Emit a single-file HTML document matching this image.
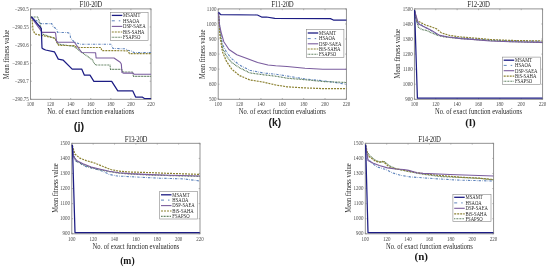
<!DOCTYPE html><html><head><meta charset="utf-8"><style>html,body{margin:0;padding:0;background:#fff;}svg{display:block;filter:blur(0.45px);} text{stroke:#111;stroke-width:0.1px;} text.t{stroke:none;fill:#484848;} text.p{stroke:none;} text.l{stroke:none;fill:#2a2a2a;}</style></head><body>
<svg width="550" height="270" viewBox="0 0 550 270">
<rect width="550" height="270" fill="#fff"/>
<rect x="30.5" y="8.9" width="120.50" height="90.40" fill="none" stroke="#888888" stroke-width="0.9"/>
<line x1="30.50" y1="99.3" x2="30.50" y2="98.0" stroke="#888888" stroke-width="0.6"/>
<line x1="30.50" y1="8.9" x2="30.50" y2="10.200000000000001" stroke="#888888" stroke-width="0.6"/>
<text x="0" y="0" transform="translate(30.50,106.20) scale(1,1.2)" font-family="Liberation Serif" font-size="5.0" text-anchor="middle" font-weight="normal" fill="#111" class="t">100</text>
<line x1="50.58" y1="99.3" x2="50.58" y2="98.0" stroke="#888888" stroke-width="0.6"/>
<line x1="50.58" y1="8.9" x2="50.58" y2="10.200000000000001" stroke="#888888" stroke-width="0.6"/>
<text x="0" y="0" transform="translate(50.58,106.20) scale(1,1.2)" font-family="Liberation Serif" font-size="5.0" text-anchor="middle" font-weight="normal" fill="#111" class="t">120</text>
<line x1="70.67" y1="99.3" x2="70.67" y2="98.0" stroke="#888888" stroke-width="0.6"/>
<line x1="70.67" y1="8.9" x2="70.67" y2="10.200000000000001" stroke="#888888" stroke-width="0.6"/>
<text x="0" y="0" transform="translate(70.67,106.20) scale(1,1.2)" font-family="Liberation Serif" font-size="5.0" text-anchor="middle" font-weight="normal" fill="#111" class="t">140</text>
<line x1="90.75" y1="99.3" x2="90.75" y2="98.0" stroke="#888888" stroke-width="0.6"/>
<line x1="90.75" y1="8.9" x2="90.75" y2="10.200000000000001" stroke="#888888" stroke-width="0.6"/>
<text x="0" y="0" transform="translate(90.75,106.20) scale(1,1.2)" font-family="Liberation Serif" font-size="5.0" text-anchor="middle" font-weight="normal" fill="#111" class="t">160</text>
<line x1="110.83" y1="99.3" x2="110.83" y2="98.0" stroke="#888888" stroke-width="0.6"/>
<line x1="110.83" y1="8.9" x2="110.83" y2="10.200000000000001" stroke="#888888" stroke-width="0.6"/>
<text x="0" y="0" transform="translate(110.83,106.20) scale(1,1.2)" font-family="Liberation Serif" font-size="5.0" text-anchor="middle" font-weight="normal" fill="#111" class="t">180</text>
<line x1="130.92" y1="99.3" x2="130.92" y2="98.0" stroke="#888888" stroke-width="0.6"/>
<line x1="130.92" y1="8.9" x2="130.92" y2="10.200000000000001" stroke="#888888" stroke-width="0.6"/>
<text x="0" y="0" transform="translate(130.92,106.20) scale(1,1.2)" font-family="Liberation Serif" font-size="5.0" text-anchor="middle" font-weight="normal" fill="#111" class="t">200</text>
<line x1="151.00" y1="99.3" x2="151.00" y2="98.0" stroke="#888888" stroke-width="0.6"/>
<line x1="151.00" y1="8.9" x2="151.00" y2="10.200000000000001" stroke="#888888" stroke-width="0.6"/>
<text x="0" y="0" transform="translate(151.00,106.20) scale(1,1.2)" font-family="Liberation Serif" font-size="5.0" text-anchor="middle" font-weight="normal" fill="#111" class="t">220</text>
<line x1="30.5" y1="8.90" x2="31.8" y2="8.90" stroke="#888888" stroke-width="0.6"/>
<line x1="151.0" y1="8.90" x2="149.7" y2="8.90" stroke="#888888" stroke-width="0.6"/>
<text x="0" y="0" transform="translate(28.80,10.53) scale(1,1.2)" font-family="Liberation Serif" font-size="5.0" text-anchor="end" font-weight="normal" fill="#111" class="t">−290.5</text>
<line x1="30.5" y1="26.98" x2="31.8" y2="26.98" stroke="#888888" stroke-width="0.6"/>
<line x1="151.0" y1="26.98" x2="149.7" y2="26.98" stroke="#888888" stroke-width="0.6"/>
<text x="0" y="0" transform="translate(28.80,28.61) scale(1,1.2)" font-family="Liberation Serif" font-size="5.0" text-anchor="end" font-weight="normal" fill="#111" class="t">−290.55</text>
<line x1="30.5" y1="45.06" x2="31.8" y2="45.06" stroke="#888888" stroke-width="0.6"/>
<line x1="151.0" y1="45.06" x2="149.7" y2="45.06" stroke="#888888" stroke-width="0.6"/>
<text x="0" y="0" transform="translate(28.80,46.69) scale(1,1.2)" font-family="Liberation Serif" font-size="5.0" text-anchor="end" font-weight="normal" fill="#111" class="t">−290.6</text>
<line x1="30.5" y1="63.14" x2="31.8" y2="63.14" stroke="#888888" stroke-width="0.6"/>
<line x1="151.0" y1="63.14" x2="149.7" y2="63.14" stroke="#888888" stroke-width="0.6"/>
<text x="0" y="0" transform="translate(28.80,64.77) scale(1,1.2)" font-family="Liberation Serif" font-size="5.0" text-anchor="end" font-weight="normal" fill="#111" class="t">−290.65</text>
<line x1="30.5" y1="81.22" x2="31.8" y2="81.22" stroke="#888888" stroke-width="0.6"/>
<line x1="151.0" y1="81.22" x2="149.7" y2="81.22" stroke="#888888" stroke-width="0.6"/>
<text x="0" y="0" transform="translate(28.80,82.85) scale(1,1.2)" font-family="Liberation Serif" font-size="5.0" text-anchor="end" font-weight="normal" fill="#111" class="t">−290.7</text>
<line x1="30.5" y1="99.30" x2="31.8" y2="99.30" stroke="#888888" stroke-width="0.6"/>
<line x1="151.0" y1="99.30" x2="149.7" y2="99.30" stroke="#888888" stroke-width="0.6"/>
<text x="0" y="0" transform="translate(28.80,100.93) scale(1,1.2)" font-family="Liberation Serif" font-size="5.0" text-anchor="end" font-weight="normal" fill="#111" class="t">−290.75</text>
<text x="0" y="0" transform="translate(90.75,7.20) scale(1,1.1)" font-family="Liberation Serif" font-size="6.8" text-anchor="middle" font-weight="normal" fill="#111" letter-spacing="-0.3" class="l">F10-20D</text>
<text x="0" y="0" transform="translate(90.75,114.00) scale(1,1.12)" font-family="Liberation Serif" font-size="6.55" text-anchor="middle" font-weight="normal" fill="#111" class="l">No. of exact function evaluations</text>
<text x="0" y="0" class="l" font-family="Liberation Serif" font-size="6.55" text-anchor="middle" fill="#111" transform="translate(8.90,54.50) rotate(-90) scale(1,1.12)">Mean fitness value</text>
<g clip-path="url(#cj)">
<polyline points="31.00,17.00 41.00,23.60 51.70,23.60 53.30,26.80 56.70,29.00 57.50,32.40 66.70,32.50 70.00,33.30 70.60,38.30 74.40,42.00 80.00,44.20 111.00,44.20 113.00,48.40 125.00,48.80 128.00,50.20 132.00,51.20 134.00,52.60 151.00,52.60" fill="none" stroke="#5f84bc" stroke-width="1.1" stroke-dasharray="2.4,1.2,0.6,1.2" stroke-linejoin="round" />
<polyline points="31.00,17.00 37.80,17.00 40.00,23.40 42.00,34.00 55.00,38.50 58.00,44.00 74.00,46.50 82.00,52.50 92.00,59.50 94.40,63.30 95.60,65.00 110.00,65.00 110.50,69.40 122.00,69.40 122.70,72.00 132.50,72.00 133.50,76.40 151.00,76.40" fill="none" stroke="#3f663f" stroke-width="1.15" stroke-dasharray="0.8,0.7" stroke-linejoin="round" />
<polyline points="31.00,17.00 32.00,18.00 33.00,30.00 35.00,34.00 42.00,35.50 54.00,37.80 55.50,39.40 58.00,44.40 59.00,45.50 74.40,45.50 76.00,47.00 80.00,47.50 101.00,47.50 101.70,50.60 128.00,50.80 129.50,53.60 151.00,53.60" fill="none" stroke="#8c8232" stroke-width="1.2" stroke-dasharray="2,1" stroke-linejoin="round" />
<polyline points="31.00,17.00 42.20,32.40 55.00,32.40 55.60,33.30 56.50,41.00 57.80,42.30 74.40,42.30 81.70,52.50 95.60,52.70 96.10,58.00 114.00,58.00 120.20,62.20 121.30,64.00 122.00,72.60 123.30,73.10 133.00,73.10 134.00,74.20 151.00,74.20" fill="none" stroke="#7a5c9e" stroke-width="1.1" stroke-linejoin="round" />
<polyline points="31.00,17.00 32.00,17.30 41.30,28.50 42.00,48.00 43.00,48.90 45.60,50.00 54.40,51.80 58.30,59.10 63.30,60.20 72.20,69.10 81.70,69.10 84.40,75.20 90.00,75.20 93.90,81.40 111.70,81.40 117.80,90.90 132.80,90.90 135.60,97.00 142.20,97.00 144.40,98.60 151.00,98.60" fill="none" stroke="#1c1c84" stroke-width="1.25" stroke-linejoin="round" />
</g>
<rect x="110.5" y="12.3" width="37.60" height="28.20" fill="#fff" stroke="#888888" stroke-width="0.6"/>
<polyline points="111.80,15.40 122.30,15.40" fill="none" stroke="#1c1c84" stroke-width="1.3" stroke-linejoin="round" />
<text x="0" y="0" transform="translate(123.10,17.27) scale(1,1.2)" font-family="Liberation Serif" font-size="4.7" text-anchor="start" font-weight="normal" fill="#111" class="t" style="fill:#262626">MSAMT</text>
<polyline points="111.80,20.80 122.30,20.80" fill="none" stroke="#5f84bc" stroke-width="1.0" stroke-dasharray="3,4,1.5,4" stroke-linejoin="round" />
<text x="0" y="0" transform="translate(123.10,22.67) scale(1,1.2)" font-family="Liberation Serif" font-size="4.7" text-anchor="start" font-weight="normal" fill="#111" class="t" style="fill:#262626">HSAOA</text>
<polyline points="111.80,26.40 122.30,26.40" fill="none" stroke="#7a5c9e" stroke-width="1.1" stroke-linejoin="round" />
<text x="0" y="0" transform="translate(123.10,28.27) scale(1,1.2)" font-family="Liberation Serif" font-size="4.7" text-anchor="start" font-weight="normal" fill="#111" class="t" style="fill:#262626">DSP-SAEA</text>
<polyline points="111.80,32.00 122.30,32.00" fill="none" stroke="#8c8232" stroke-width="1.2" stroke-dasharray="2,1" stroke-linejoin="round" />
<text x="0" y="0" transform="translate(123.10,33.87) scale(1,1.2)" font-family="Liberation Serif" font-size="4.7" text-anchor="start" font-weight="normal" fill="#111" class="t" style="fill:#262626">BiS-SAHA</text>
<polyline points="111.80,37.30 122.30,37.30" fill="none" stroke="#3f663f" stroke-width="1.1" stroke-dasharray="0.8,0.7" stroke-linejoin="round" />
<text x="0" y="0" transform="translate(123.10,39.17) scale(1,1.2)" font-family="Liberation Serif" font-size="4.7" text-anchor="start" font-weight="normal" fill="#111" class="t" style="fill:#262626">FSAPSO</text>
<rect x="218.2" y="8.9" width="128.20" height="90.40" fill="none" stroke="#888888" stroke-width="0.9"/>
<line x1="218.20" y1="99.3" x2="218.20" y2="98.0" stroke="#888888" stroke-width="0.6"/>
<line x1="218.20" y1="8.9" x2="218.20" y2="10.200000000000001" stroke="#888888" stroke-width="0.6"/>
<text x="0" y="0" transform="translate(218.20,106.20) scale(1,1.2)" font-family="Liberation Serif" font-size="5.0" text-anchor="middle" font-weight="normal" fill="#111" class="t">100</text>
<line x1="239.57" y1="99.3" x2="239.57" y2="98.0" stroke="#888888" stroke-width="0.6"/>
<line x1="239.57" y1="8.9" x2="239.57" y2="10.200000000000001" stroke="#888888" stroke-width="0.6"/>
<text x="0" y="0" transform="translate(239.57,106.20) scale(1,1.2)" font-family="Liberation Serif" font-size="5.0" text-anchor="middle" font-weight="normal" fill="#111" class="t">120</text>
<line x1="260.93" y1="99.3" x2="260.93" y2="98.0" stroke="#888888" stroke-width="0.6"/>
<line x1="260.93" y1="8.9" x2="260.93" y2="10.200000000000001" stroke="#888888" stroke-width="0.6"/>
<text x="0" y="0" transform="translate(260.93,106.20) scale(1,1.2)" font-family="Liberation Serif" font-size="5.0" text-anchor="middle" font-weight="normal" fill="#111" class="t">140</text>
<line x1="282.30" y1="99.3" x2="282.30" y2="98.0" stroke="#888888" stroke-width="0.6"/>
<line x1="282.30" y1="8.9" x2="282.30" y2="10.200000000000001" stroke="#888888" stroke-width="0.6"/>
<text x="0" y="0" transform="translate(282.30,106.20) scale(1,1.2)" font-family="Liberation Serif" font-size="5.0" text-anchor="middle" font-weight="normal" fill="#111" class="t">160</text>
<line x1="303.67" y1="99.3" x2="303.67" y2="98.0" stroke="#888888" stroke-width="0.6"/>
<line x1="303.67" y1="8.9" x2="303.67" y2="10.200000000000001" stroke="#888888" stroke-width="0.6"/>
<text x="0" y="0" transform="translate(303.67,106.20) scale(1,1.2)" font-family="Liberation Serif" font-size="5.0" text-anchor="middle" font-weight="normal" fill="#111" class="t">180</text>
<line x1="325.03" y1="99.3" x2="325.03" y2="98.0" stroke="#888888" stroke-width="0.6"/>
<line x1="325.03" y1="8.9" x2="325.03" y2="10.200000000000001" stroke="#888888" stroke-width="0.6"/>
<text x="0" y="0" transform="translate(325.03,106.20) scale(1,1.2)" font-family="Liberation Serif" font-size="5.0" text-anchor="middle" font-weight="normal" fill="#111" class="t">200</text>
<line x1="346.40" y1="99.3" x2="346.40" y2="98.0" stroke="#888888" stroke-width="0.6"/>
<line x1="346.40" y1="8.9" x2="346.40" y2="10.200000000000001" stroke="#888888" stroke-width="0.6"/>
<text x="0" y="0" transform="translate(346.40,106.20) scale(1,1.2)" font-family="Liberation Serif" font-size="5.0" text-anchor="middle" font-weight="normal" fill="#111" class="t">220</text>
<line x1="218.2" y1="8.90" x2="219.5" y2="8.90" stroke="#888888" stroke-width="0.6"/>
<line x1="346.4" y1="8.90" x2="345.09999999999997" y2="8.90" stroke="#888888" stroke-width="0.6"/>
<text x="0" y="0" transform="translate(216.50,10.53) scale(1,1.2)" font-family="Liberation Serif" font-size="5.0" text-anchor="end" font-weight="normal" fill="#111" class="t">1100</text>
<line x1="218.2" y1="23.97" x2="219.5" y2="23.97" stroke="#888888" stroke-width="0.6"/>
<line x1="346.4" y1="23.97" x2="345.09999999999997" y2="23.97" stroke="#888888" stroke-width="0.6"/>
<text x="0" y="0" transform="translate(216.50,25.59) scale(1,1.2)" font-family="Liberation Serif" font-size="5.0" text-anchor="end" font-weight="normal" fill="#111" class="t">1000</text>
<line x1="218.2" y1="39.03" x2="219.5" y2="39.03" stroke="#888888" stroke-width="0.6"/>
<line x1="346.4" y1="39.03" x2="345.09999999999997" y2="39.03" stroke="#888888" stroke-width="0.6"/>
<text x="0" y="0" transform="translate(216.50,40.66) scale(1,1.2)" font-family="Liberation Serif" font-size="5.0" text-anchor="end" font-weight="normal" fill="#111" class="t">900</text>
<line x1="218.2" y1="54.10" x2="219.5" y2="54.10" stroke="#888888" stroke-width="0.6"/>
<line x1="346.4" y1="54.10" x2="345.09999999999997" y2="54.10" stroke="#888888" stroke-width="0.6"/>
<text x="0" y="0" transform="translate(216.50,55.73) scale(1,1.2)" font-family="Liberation Serif" font-size="5.0" text-anchor="end" font-weight="normal" fill="#111" class="t">800</text>
<line x1="218.2" y1="69.17" x2="219.5" y2="69.17" stroke="#888888" stroke-width="0.6"/>
<line x1="346.4" y1="69.17" x2="345.09999999999997" y2="69.17" stroke="#888888" stroke-width="0.6"/>
<text x="0" y="0" transform="translate(216.50,70.79) scale(1,1.2)" font-family="Liberation Serif" font-size="5.0" text-anchor="end" font-weight="normal" fill="#111" class="t">700</text>
<line x1="218.2" y1="84.23" x2="219.5" y2="84.23" stroke="#888888" stroke-width="0.6"/>
<line x1="346.4" y1="84.23" x2="345.09999999999997" y2="84.23" stroke="#888888" stroke-width="0.6"/>
<text x="0" y="0" transform="translate(216.50,85.86) scale(1,1.2)" font-family="Liberation Serif" font-size="5.0" text-anchor="end" font-weight="normal" fill="#111" class="t">600</text>
<line x1="218.2" y1="99.30" x2="219.5" y2="99.30" stroke="#888888" stroke-width="0.6"/>
<line x1="346.4" y1="99.30" x2="345.09999999999997" y2="99.30" stroke="#888888" stroke-width="0.6"/>
<text x="0" y="0" transform="translate(216.50,100.93) scale(1,1.2)" font-family="Liberation Serif" font-size="5.0" text-anchor="end" font-weight="normal" fill="#111" class="t">500</text>
<text x="0" y="0" transform="translate(282.30,7.20) scale(1,1.1)" font-family="Liberation Serif" font-size="6.8" text-anchor="middle" font-weight="normal" fill="#111" letter-spacing="-0.3" class="l">F11-20D</text>
<text x="0" y="0" transform="translate(282.30,114.00) scale(1,1.12)" font-family="Liberation Serif" font-size="6.55" text-anchor="middle" font-weight="normal" fill="#111" class="l">No. of exact function evaluations</text>
<text x="0" y="0" class="l" font-family="Liberation Serif" font-size="6.55" text-anchor="middle" fill="#111" transform="translate(204.90,54.20) rotate(-90) scale(1,1.12)">Mean fitness value</text>
<polyline points="218.50,13.00 220.00,30.00 222.50,44.30 226.40,52.00 231.60,58.60 239.40,65.00 249.80,70.30 262.80,72.90 275.70,74.20 287.00,76.00 305.00,79.00 322.80,80.70 335.00,82.50 346.40,84.30" fill="none" stroke="#5f84bc" stroke-width="1.1" stroke-dasharray="2.4,1.2,0.6,1.2" stroke-linejoin="round" />
<polyline points="218.50,13.00 220.00,32.00 222.50,48.20 226.40,56.00 231.60,62.50 239.40,67.70 249.80,72.90 262.80,74.70 275.70,76.20 287.00,78.20 305.00,79.70 322.80,81.50 346.40,82.50" fill="none" stroke="#3f663f" stroke-width="1.15" stroke-dasharray="0.8,0.7" stroke-linejoin="round" />
<polyline points="218.50,13.00 220.00,36.00 222.50,52.00 226.40,61.20 231.60,69.00 239.40,75.50 249.80,79.90 262.80,82.00 275.70,85.00 287.00,86.80 305.00,87.90 322.80,88.60 346.40,88.60" fill="none" stroke="#8c8232" stroke-width="1.2" stroke-dasharray="2,1" stroke-linejoin="round" />
<polyline points="218.50,13.00 219.50,25.00 221.20,32.60 223.80,41.70 229.00,49.50 236.80,54.70 247.00,58.60 257.60,62.50 268.00,65.00 275.70,65.80 287.00,66.50 305.00,68.30 322.80,69.30 346.40,69.30" fill="none" stroke="#7a5c9e" stroke-width="1.1" stroke-linejoin="round" />
<polyline points="218.40,12.20 220.80,14.60 257.40,15.00 261.60,17.00 266.40,17.00 274.80,18.40 330.40,18.60 333.40,20.00 346.40,20.00" fill="none" stroke="#1c1c84" stroke-width="1.25" stroke-linejoin="round" />
<rect x="306.4" y="29.4" width="37.50" height="28.20" fill="#fff" stroke="#888888" stroke-width="0.6"/>
<polyline points="307.70,33.00 318.20,33.00" fill="none" stroke="#1c1c84" stroke-width="1.3" stroke-linejoin="round" />
<text x="0" y="0" transform="translate(319.00,34.87) scale(1,1.2)" font-family="Liberation Serif" font-size="4.7" text-anchor="start" font-weight="normal" fill="#111" class="t" style="fill:#262626">MSAMT</text>
<polyline points="307.70,38.60 318.20,38.60" fill="none" stroke="#5f84bc" stroke-width="1.0" stroke-dasharray="3,4,1.5,4" stroke-linejoin="round" />
<text x="0" y="0" transform="translate(319.00,40.47) scale(1,1.2)" font-family="Liberation Serif" font-size="4.7" text-anchor="start" font-weight="normal" fill="#111" class="t" style="fill:#262626">HSAOA</text>
<polyline points="307.70,43.80 318.20,43.80" fill="none" stroke="#7a5c9e" stroke-width="1.1" stroke-linejoin="round" />
<text x="0" y="0" transform="translate(319.00,45.67) scale(1,1.2)" font-family="Liberation Serif" font-size="4.7" text-anchor="start" font-weight="normal" fill="#111" class="t" style="fill:#262626">DSP-SAEA</text>
<polyline points="307.70,49.00 318.20,49.00" fill="none" stroke="#8c8232" stroke-width="1.2" stroke-dasharray="2,1" stroke-linejoin="round" />
<text x="0" y="0" transform="translate(319.00,50.87) scale(1,1.2)" font-family="Liberation Serif" font-size="4.7" text-anchor="start" font-weight="normal" fill="#111" class="t" style="fill:#262626">BiS-SAHA</text>
<polyline points="307.70,54.30 318.20,54.30" fill="none" stroke="#3f663f" stroke-width="1.1" stroke-dasharray="0.8,0.7" stroke-linejoin="round" />
<text x="0" y="0" transform="translate(319.00,56.17) scale(1,1.2)" font-family="Liberation Serif" font-size="4.7" text-anchor="start" font-weight="normal" fill="#111" class="t" style="fill:#262626">FSAPSO</text>
<rect x="414.4" y="8.9" width="128.20" height="90.40" fill="none" stroke="#888888" stroke-width="0.9"/>
<line x1="414.40" y1="99.3" x2="414.40" y2="98.0" stroke="#888888" stroke-width="0.6"/>
<line x1="414.40" y1="8.9" x2="414.40" y2="10.200000000000001" stroke="#888888" stroke-width="0.6"/>
<text x="0" y="0" transform="translate(414.40,106.20) scale(1,1.2)" font-family="Liberation Serif" font-size="5.0" text-anchor="middle" font-weight="normal" fill="#111" class="t">100</text>
<line x1="435.77" y1="99.3" x2="435.77" y2="98.0" stroke="#888888" stroke-width="0.6"/>
<line x1="435.77" y1="8.9" x2="435.77" y2="10.200000000000001" stroke="#888888" stroke-width="0.6"/>
<text x="0" y="0" transform="translate(435.77,106.20) scale(1,1.2)" font-family="Liberation Serif" font-size="5.0" text-anchor="middle" font-weight="normal" fill="#111" class="t">120</text>
<line x1="457.13" y1="99.3" x2="457.13" y2="98.0" stroke="#888888" stroke-width="0.6"/>
<line x1="457.13" y1="8.9" x2="457.13" y2="10.200000000000001" stroke="#888888" stroke-width="0.6"/>
<text x="0" y="0" transform="translate(457.13,106.20) scale(1,1.2)" font-family="Liberation Serif" font-size="5.0" text-anchor="middle" font-weight="normal" fill="#111" class="t">140</text>
<line x1="478.50" y1="99.3" x2="478.50" y2="98.0" stroke="#888888" stroke-width="0.6"/>
<line x1="478.50" y1="8.9" x2="478.50" y2="10.200000000000001" stroke="#888888" stroke-width="0.6"/>
<text x="0" y="0" transform="translate(478.50,106.20) scale(1,1.2)" font-family="Liberation Serif" font-size="5.0" text-anchor="middle" font-weight="normal" fill="#111" class="t">160</text>
<line x1="499.87" y1="99.3" x2="499.87" y2="98.0" stroke="#888888" stroke-width="0.6"/>
<line x1="499.87" y1="8.9" x2="499.87" y2="10.200000000000001" stroke="#888888" stroke-width="0.6"/>
<text x="0" y="0" transform="translate(499.87,106.20) scale(1,1.2)" font-family="Liberation Serif" font-size="5.0" text-anchor="middle" font-weight="normal" fill="#111" class="t">180</text>
<line x1="521.23" y1="99.3" x2="521.23" y2="98.0" stroke="#888888" stroke-width="0.6"/>
<line x1="521.23" y1="8.9" x2="521.23" y2="10.200000000000001" stroke="#888888" stroke-width="0.6"/>
<text x="0" y="0" transform="translate(521.23,106.20) scale(1,1.2)" font-family="Liberation Serif" font-size="5.0" text-anchor="middle" font-weight="normal" fill="#111" class="t">200</text>
<line x1="542.60" y1="99.3" x2="542.60" y2="98.0" stroke="#888888" stroke-width="0.6"/>
<line x1="542.60" y1="8.9" x2="542.60" y2="10.200000000000001" stroke="#888888" stroke-width="0.6"/>
<text x="0" y="0" transform="translate(542.60,106.20) scale(1,1.2)" font-family="Liberation Serif" font-size="5.0" text-anchor="middle" font-weight="normal" fill="#111" class="t">220</text>
<line x1="414.4" y1="8.90" x2="415.7" y2="8.90" stroke="#888888" stroke-width="0.6"/>
<line x1="542.6" y1="8.90" x2="541.3000000000001" y2="8.90" stroke="#888888" stroke-width="0.6"/>
<text x="0" y="0" transform="translate(412.70,10.53) scale(1,1.2)" font-family="Liberation Serif" font-size="5.0" text-anchor="end" font-weight="normal" fill="#111" class="t">1500</text>
<line x1="414.4" y1="23.97" x2="415.7" y2="23.97" stroke="#888888" stroke-width="0.6"/>
<line x1="542.6" y1="23.97" x2="541.3000000000001" y2="23.97" stroke="#888888" stroke-width="0.6"/>
<text x="0" y="0" transform="translate(412.70,25.59) scale(1,1.2)" font-family="Liberation Serif" font-size="5.0" text-anchor="end" font-weight="normal" fill="#111" class="t">1400</text>
<line x1="414.4" y1="39.03" x2="415.7" y2="39.03" stroke="#888888" stroke-width="0.6"/>
<line x1="542.6" y1="39.03" x2="541.3000000000001" y2="39.03" stroke="#888888" stroke-width="0.6"/>
<text x="0" y="0" transform="translate(412.70,40.66) scale(1,1.2)" font-family="Liberation Serif" font-size="5.0" text-anchor="end" font-weight="normal" fill="#111" class="t">1300</text>
<line x1="414.4" y1="54.10" x2="415.7" y2="54.10" stroke="#888888" stroke-width="0.6"/>
<line x1="542.6" y1="54.10" x2="541.3000000000001" y2="54.10" stroke="#888888" stroke-width="0.6"/>
<text x="0" y="0" transform="translate(412.70,55.73) scale(1,1.2)" font-family="Liberation Serif" font-size="5.0" text-anchor="end" font-weight="normal" fill="#111" class="t">1200</text>
<line x1="414.4" y1="69.17" x2="415.7" y2="69.17" stroke="#888888" stroke-width="0.6"/>
<line x1="542.6" y1="69.17" x2="541.3000000000001" y2="69.17" stroke="#888888" stroke-width="0.6"/>
<text x="0" y="0" transform="translate(412.70,70.79) scale(1,1.2)" font-family="Liberation Serif" font-size="5.0" text-anchor="end" font-weight="normal" fill="#111" class="t">1100</text>
<line x1="414.4" y1="84.23" x2="415.7" y2="84.23" stroke="#888888" stroke-width="0.6"/>
<line x1="542.6" y1="84.23" x2="541.3000000000001" y2="84.23" stroke="#888888" stroke-width="0.6"/>
<text x="0" y="0" transform="translate(412.70,85.86) scale(1,1.2)" font-family="Liberation Serif" font-size="5.0" text-anchor="end" font-weight="normal" fill="#111" class="t">1000</text>
<line x1="414.4" y1="99.30" x2="415.7" y2="99.30" stroke="#888888" stroke-width="0.6"/>
<line x1="542.6" y1="99.30" x2="541.3000000000001" y2="99.30" stroke="#888888" stroke-width="0.6"/>
<text x="0" y="0" transform="translate(412.70,100.93) scale(1,1.2)" font-family="Liberation Serif" font-size="5.0" text-anchor="end" font-weight="normal" fill="#111" class="t">900</text>
<text x="0" y="0" transform="translate(478.50,7.20) scale(1,1.1)" font-family="Liberation Serif" font-size="6.8" text-anchor="middle" font-weight="normal" fill="#111" letter-spacing="-0.3" class="l">F12-20D</text>
<text x="0" y="0" transform="translate(478.50,114.00) scale(1,1.12)" font-family="Liberation Serif" font-size="6.55" text-anchor="middle" font-weight="normal" fill="#111" class="l">No. of exact function evaluations</text>
<text x="0" y="0" class="l" font-family="Liberation Serif" font-size="6.55" text-anchor="middle" fill="#111" transform="translate(400.00,53.70) rotate(-90) scale(1,1.12)">Mean fitness value</text>
<polyline points="414.60,10.90 416.90,22.30 420.20,24.00 423.40,26.40 428.30,28.80 434.80,32.90 439.70,35.40 450.00,37.20 472.00,38.80 490.00,40.00 510.00,40.80 542.40,41.30" fill="none" stroke="#5f84bc" stroke-width="1.1" stroke-dasharray="2.4,1.2,0.6,1.2" stroke-linejoin="round" />
<polyline points="414.60,10.90 416.90,22.30 418.50,27.20 421.80,29.60 426.70,30.50 431.60,32.90 438.00,35.40 444.60,37.00 460.00,38.50 480.00,40.00 510.00,41.60 542.40,42.60" fill="none" stroke="#3f663f" stroke-width="1.15" stroke-dasharray="0.8,0.7" stroke-linejoin="round" />
<polyline points="414.60,10.90 416.90,20.70 420.20,22.30 425.00,24.80 430.00,26.40 436.50,28.80 441.40,32.90 449.50,35.40 461.00,37.00 472.00,37.80 490.00,39.50 510.00,40.40 542.40,41.00" fill="none" stroke="#8c8232" stroke-width="1.2" stroke-dasharray="2,1" stroke-linejoin="round" />
<polyline points="414.60,10.90 418.50,24.00 425.00,27.20 431.60,30.50 439.70,35.40 447.90,37.00 461.00,38.60 472.00,39.40 490.00,41.00 510.00,41.80 542.40,42.40" fill="none" stroke="#7a5c9e" stroke-width="1.1" stroke-linejoin="round" />
<polyline points="414.60,10.00 417.40,98.20 542.40,98.20" fill="none" stroke="#1c1c84" stroke-width="1.25" stroke-linejoin="round" />
<rect x="502.4" y="57.1" width="37.90" height="27.40" fill="#fff" stroke="#888888" stroke-width="0.6"/>
<polyline points="503.70,60.20 514.20,60.20" fill="none" stroke="#1c1c84" stroke-width="1.3" stroke-linejoin="round" />
<text x="0" y="0" transform="translate(515.00,62.07) scale(1,1.2)" font-family="Liberation Serif" font-size="4.7" text-anchor="start" font-weight="normal" fill="#111" class="t" style="fill:#262626">MSAMT</text>
<polyline points="503.70,65.40 514.20,65.40" fill="none" stroke="#5f84bc" stroke-width="1.0" stroke-dasharray="3,4,1.5,4" stroke-linejoin="round" />
<text x="0" y="0" transform="translate(515.00,67.27) scale(1,1.2)" font-family="Liberation Serif" font-size="4.7" text-anchor="start" font-weight="normal" fill="#111" class="t" style="fill:#262626">HSAOA</text>
<polyline points="503.70,70.70 514.20,70.70" fill="none" stroke="#7a5c9e" stroke-width="1.1" stroke-linejoin="round" />
<text x="0" y="0" transform="translate(515.00,72.57) scale(1,1.2)" font-family="Liberation Serif" font-size="4.7" text-anchor="start" font-weight="normal" fill="#111" class="t" style="fill:#262626">DSP-SAEA</text>
<polyline points="503.70,76.10 514.20,76.10" fill="none" stroke="#8c8232" stroke-width="1.2" stroke-dasharray="2,1" stroke-linejoin="round" />
<text x="0" y="0" transform="translate(515.00,77.97) scale(1,1.2)" font-family="Liberation Serif" font-size="4.7" text-anchor="start" font-weight="normal" fill="#111" class="t" style="fill:#262626">BiS-SAHA</text>
<polyline points="503.70,81.20 514.20,81.20" fill="none" stroke="#3f663f" stroke-width="1.1" stroke-dasharray="0.8,0.7" stroke-linejoin="round" />
<text x="0" y="0" transform="translate(515.00,83.07) scale(1,1.2)" font-family="Liberation Serif" font-size="4.7" text-anchor="start" font-weight="normal" fill="#111" class="t" style="fill:#262626">FSAPSO</text>
<rect x="71.8" y="143.3" width="128.20" height="90.50" fill="none" stroke="#888888" stroke-width="0.9"/>
<line x1="71.80" y1="233.8" x2="71.80" y2="232.5" stroke="#888888" stroke-width="0.6"/>
<line x1="71.80" y1="143.3" x2="71.80" y2="144.60000000000002" stroke="#888888" stroke-width="0.6"/>
<text x="0" y="0" transform="translate(71.80,240.70) scale(1,1.2)" font-family="Liberation Serif" font-size="5.0" text-anchor="middle" font-weight="normal" fill="#111" class="t">100</text>
<line x1="93.17" y1="233.8" x2="93.17" y2="232.5" stroke="#888888" stroke-width="0.6"/>
<line x1="93.17" y1="143.3" x2="93.17" y2="144.60000000000002" stroke="#888888" stroke-width="0.6"/>
<text x="0" y="0" transform="translate(93.17,240.70) scale(1,1.2)" font-family="Liberation Serif" font-size="5.0" text-anchor="middle" font-weight="normal" fill="#111" class="t">120</text>
<line x1="114.53" y1="233.8" x2="114.53" y2="232.5" stroke="#888888" stroke-width="0.6"/>
<line x1="114.53" y1="143.3" x2="114.53" y2="144.60000000000002" stroke="#888888" stroke-width="0.6"/>
<text x="0" y="0" transform="translate(114.53,240.70) scale(1,1.2)" font-family="Liberation Serif" font-size="5.0" text-anchor="middle" font-weight="normal" fill="#111" class="t">140</text>
<line x1="135.90" y1="233.8" x2="135.90" y2="232.5" stroke="#888888" stroke-width="0.6"/>
<line x1="135.90" y1="143.3" x2="135.90" y2="144.60000000000002" stroke="#888888" stroke-width="0.6"/>
<text x="0" y="0" transform="translate(135.90,240.70) scale(1,1.2)" font-family="Liberation Serif" font-size="5.0" text-anchor="middle" font-weight="normal" fill="#111" class="t">160</text>
<line x1="157.27" y1="233.8" x2="157.27" y2="232.5" stroke="#888888" stroke-width="0.6"/>
<line x1="157.27" y1="143.3" x2="157.27" y2="144.60000000000002" stroke="#888888" stroke-width="0.6"/>
<text x="0" y="0" transform="translate(157.27,240.70) scale(1,1.2)" font-family="Liberation Serif" font-size="5.0" text-anchor="middle" font-weight="normal" fill="#111" class="t">180</text>
<line x1="178.63" y1="233.8" x2="178.63" y2="232.5" stroke="#888888" stroke-width="0.6"/>
<line x1="178.63" y1="143.3" x2="178.63" y2="144.60000000000002" stroke="#888888" stroke-width="0.6"/>
<text x="0" y="0" transform="translate(178.63,240.70) scale(1,1.2)" font-family="Liberation Serif" font-size="5.0" text-anchor="middle" font-weight="normal" fill="#111" class="t">200</text>
<line x1="200.00" y1="233.8" x2="200.00" y2="232.5" stroke="#888888" stroke-width="0.6"/>
<line x1="200.00" y1="143.3" x2="200.00" y2="144.60000000000002" stroke="#888888" stroke-width="0.6"/>
<text x="0" y="0" transform="translate(200.00,240.70) scale(1,1.2)" font-family="Liberation Serif" font-size="5.0" text-anchor="middle" font-weight="normal" fill="#111" class="t">220</text>
<line x1="71.8" y1="143.30" x2="73.1" y2="143.30" stroke="#888888" stroke-width="0.6"/>
<line x1="200.0" y1="143.30" x2="198.7" y2="143.30" stroke="#888888" stroke-width="0.6"/>
<text x="0" y="0" transform="translate(70.10,144.93) scale(1,1.2)" font-family="Liberation Serif" font-size="5.0" text-anchor="end" font-weight="normal" fill="#111" class="t">1500</text>
<line x1="71.8" y1="158.38" x2="73.1" y2="158.38" stroke="#888888" stroke-width="0.6"/>
<line x1="200.0" y1="158.38" x2="198.7" y2="158.38" stroke="#888888" stroke-width="0.6"/>
<text x="0" y="0" transform="translate(70.10,160.01) scale(1,1.2)" font-family="Liberation Serif" font-size="5.0" text-anchor="end" font-weight="normal" fill="#111" class="t">1400</text>
<line x1="71.8" y1="173.47" x2="73.1" y2="173.47" stroke="#888888" stroke-width="0.6"/>
<line x1="200.0" y1="173.47" x2="198.7" y2="173.47" stroke="#888888" stroke-width="0.6"/>
<text x="0" y="0" transform="translate(70.10,175.09) scale(1,1.2)" font-family="Liberation Serif" font-size="5.0" text-anchor="end" font-weight="normal" fill="#111" class="t">1300</text>
<line x1="71.8" y1="188.55" x2="73.1" y2="188.55" stroke="#888888" stroke-width="0.6"/>
<line x1="200.0" y1="188.55" x2="198.7" y2="188.55" stroke="#888888" stroke-width="0.6"/>
<text x="0" y="0" transform="translate(70.10,190.18) scale(1,1.2)" font-family="Liberation Serif" font-size="5.0" text-anchor="end" font-weight="normal" fill="#111" class="t">1200</text>
<line x1="71.8" y1="203.63" x2="73.1" y2="203.63" stroke="#888888" stroke-width="0.6"/>
<line x1="200.0" y1="203.63" x2="198.7" y2="203.63" stroke="#888888" stroke-width="0.6"/>
<text x="0" y="0" transform="translate(70.10,205.26) scale(1,1.2)" font-family="Liberation Serif" font-size="5.0" text-anchor="end" font-weight="normal" fill="#111" class="t">1100</text>
<line x1="71.8" y1="218.72" x2="73.1" y2="218.72" stroke="#888888" stroke-width="0.6"/>
<line x1="200.0" y1="218.72" x2="198.7" y2="218.72" stroke="#888888" stroke-width="0.6"/>
<text x="0" y="0" transform="translate(70.10,220.34) scale(1,1.2)" font-family="Liberation Serif" font-size="5.0" text-anchor="end" font-weight="normal" fill="#111" class="t">1000</text>
<line x1="71.8" y1="233.80" x2="73.1" y2="233.80" stroke="#888888" stroke-width="0.6"/>
<line x1="200.0" y1="233.80" x2="198.7" y2="233.80" stroke="#888888" stroke-width="0.6"/>
<text x="0" y="0" transform="translate(70.10,235.43) scale(1,1.2)" font-family="Liberation Serif" font-size="5.0" text-anchor="end" font-weight="normal" fill="#111" class="t">900</text>
<text x="0" y="0" transform="translate(135.90,141.80) scale(1,1.1)" font-family="Liberation Serif" font-size="6.8" text-anchor="middle" font-weight="normal" fill="#111" letter-spacing="-0.3" class="l">F13-20D</text>
<text x="0" y="0" transform="translate(135.90,248.80) scale(1,1.12)" font-family="Liberation Serif" font-size="6.55" text-anchor="middle" font-weight="normal" fill="#111" class="l">No. of exact function evaluations</text>
<text x="0" y="0" class="l" font-family="Liberation Serif" font-size="6.55" text-anchor="middle" fill="#111" transform="translate(57.90,188.00) rotate(-90) scale(1,1.12)">Mean fitness value</text>
<polyline points="72.20,145.30 74.90,160.60 79.80,163.00 84.70,166.30 94.50,168.70 102.60,171.20 109.20,174.40 117.30,176.00 125.50,176.40 140.00,177.20 160.00,178.20 184.00,178.90 199.80,181.00" fill="none" stroke="#5f84bc" stroke-width="1.1" stroke-dasharray="2.4,1.2,0.6,1.2" stroke-linejoin="round" />
<polyline points="72.20,145.30 73.50,156.50 77.00,161.50 83.00,164.50 91.20,167.60 99.40,169.60 109.20,171.60 119.00,173.20 130.00,174.00 150.00,175.00 170.00,175.60 199.80,176.40" fill="none" stroke="#3f663f" stroke-width="1.15" stroke-dasharray="0.8,0.7" stroke-linejoin="round" />
<polyline points="72.20,145.30 74.90,154.00 79.80,158.10 86.30,160.60 94.50,163.00 102.60,166.30 110.80,169.50 119.00,171.20 130.00,172.00 150.00,172.60 170.00,173.40 199.80,174.40" fill="none" stroke="#8c8232" stroke-width="1.2" stroke-dasharray="2,1" stroke-linejoin="round" />
<polyline points="72.20,145.30 73.30,155.70 76.50,160.60 83.00,163.80 91.20,167.10 99.40,169.00 109.20,171.20 119.00,172.80 130.00,173.60 150.00,174.60 170.00,175.30 199.80,176.00" fill="none" stroke="#7a5c9e" stroke-width="1.1" stroke-linejoin="round" />
<polyline points="72.40,144.80 75.00,232.60 199.80,232.60" fill="none" stroke="#1c1c84" stroke-width="1.25" stroke-linejoin="round" />
<rect x="159.7" y="191.6" width="37.70" height="27.40" fill="#fff" stroke="#888888" stroke-width="0.6"/>
<polyline points="161.00,194.80 171.50,194.80" fill="none" stroke="#1c1c84" stroke-width="1.3" stroke-linejoin="round" />
<text x="0" y="0" transform="translate(172.30,196.67) scale(1,1.2)" font-family="Liberation Serif" font-size="4.7" text-anchor="start" font-weight="normal" fill="#111" class="t" style="fill:#262626">MSAMT</text>
<polyline points="161.00,200.10 171.50,200.10" fill="none" stroke="#5f84bc" stroke-width="1.0" stroke-dasharray="3,4,1.5,4" stroke-linejoin="round" />
<text x="0" y="0" transform="translate(172.30,201.97) scale(1,1.2)" font-family="Liberation Serif" font-size="4.7" text-anchor="start" font-weight="normal" fill="#111" class="t" style="fill:#262626">HSAOA</text>
<polyline points="161.00,205.60 171.50,205.60" fill="none" stroke="#7a5c9e" stroke-width="1.1" stroke-linejoin="round" />
<text x="0" y="0" transform="translate(172.30,207.47) scale(1,1.2)" font-family="Liberation Serif" font-size="4.7" text-anchor="start" font-weight="normal" fill="#111" class="t" style="fill:#262626">DSP-SAEA</text>
<polyline points="161.00,211.00 171.50,211.00" fill="none" stroke="#8c8232" stroke-width="1.2" stroke-dasharray="2,1" stroke-linejoin="round" />
<text x="0" y="0" transform="translate(172.30,212.87) scale(1,1.2)" font-family="Liberation Serif" font-size="4.7" text-anchor="start" font-weight="normal" fill="#111" class="t" style="fill:#262626">BiS-SAHA</text>
<polyline points="161.00,216.40 171.50,216.40" fill="none" stroke="#3f663f" stroke-width="1.1" stroke-dasharray="0.8,0.7" stroke-linejoin="round" />
<text x="0" y="0" transform="translate(172.30,218.27) scale(1,1.2)" font-family="Liberation Serif" font-size="4.7" text-anchor="start" font-weight="normal" fill="#111" class="t" style="fill:#262626">FSAPSO</text>
<rect x="365.3" y="143.3" width="128.30" height="90.50" fill="none" stroke="#888888" stroke-width="0.9"/>
<line x1="365.30" y1="233.8" x2="365.30" y2="232.5" stroke="#888888" stroke-width="0.6"/>
<line x1="365.30" y1="143.3" x2="365.30" y2="144.60000000000002" stroke="#888888" stroke-width="0.6"/>
<text x="0" y="0" transform="translate(365.30,240.70) scale(1,1.2)" font-family="Liberation Serif" font-size="5.0" text-anchor="middle" font-weight="normal" fill="#111" class="t">100</text>
<line x1="386.68" y1="233.8" x2="386.68" y2="232.5" stroke="#888888" stroke-width="0.6"/>
<line x1="386.68" y1="143.3" x2="386.68" y2="144.60000000000002" stroke="#888888" stroke-width="0.6"/>
<text x="0" y="0" transform="translate(386.68,240.70) scale(1,1.2)" font-family="Liberation Serif" font-size="5.0" text-anchor="middle" font-weight="normal" fill="#111" class="t">120</text>
<line x1="408.07" y1="233.8" x2="408.07" y2="232.5" stroke="#888888" stroke-width="0.6"/>
<line x1="408.07" y1="143.3" x2="408.07" y2="144.60000000000002" stroke="#888888" stroke-width="0.6"/>
<text x="0" y="0" transform="translate(408.07,240.70) scale(1,1.2)" font-family="Liberation Serif" font-size="5.0" text-anchor="middle" font-weight="normal" fill="#111" class="t">140</text>
<line x1="429.45" y1="233.8" x2="429.45" y2="232.5" stroke="#888888" stroke-width="0.6"/>
<line x1="429.45" y1="143.3" x2="429.45" y2="144.60000000000002" stroke="#888888" stroke-width="0.6"/>
<text x="0" y="0" transform="translate(429.45,240.70) scale(1,1.2)" font-family="Liberation Serif" font-size="5.0" text-anchor="middle" font-weight="normal" fill="#111" class="t">160</text>
<line x1="450.83" y1="233.8" x2="450.83" y2="232.5" stroke="#888888" stroke-width="0.6"/>
<line x1="450.83" y1="143.3" x2="450.83" y2="144.60000000000002" stroke="#888888" stroke-width="0.6"/>
<text x="0" y="0" transform="translate(450.83,240.70) scale(1,1.2)" font-family="Liberation Serif" font-size="5.0" text-anchor="middle" font-weight="normal" fill="#111" class="t">180</text>
<line x1="472.22" y1="233.8" x2="472.22" y2="232.5" stroke="#888888" stroke-width="0.6"/>
<line x1="472.22" y1="143.3" x2="472.22" y2="144.60000000000002" stroke="#888888" stroke-width="0.6"/>
<text x="0" y="0" transform="translate(472.22,240.70) scale(1,1.2)" font-family="Liberation Serif" font-size="5.0" text-anchor="middle" font-weight="normal" fill="#111" class="t">200</text>
<line x1="493.60" y1="233.8" x2="493.60" y2="232.5" stroke="#888888" stroke-width="0.6"/>
<line x1="493.60" y1="143.3" x2="493.60" y2="144.60000000000002" stroke="#888888" stroke-width="0.6"/>
<text x="0" y="0" transform="translate(493.60,240.70) scale(1,1.2)" font-family="Liberation Serif" font-size="5.0" text-anchor="middle" font-weight="normal" fill="#111" class="t">220</text>
<line x1="365.3" y1="143.30" x2="366.6" y2="143.30" stroke="#888888" stroke-width="0.6"/>
<line x1="493.6" y1="143.30" x2="492.3" y2="143.30" stroke="#888888" stroke-width="0.6"/>
<text x="0" y="0" transform="translate(363.60,144.93) scale(1,1.2)" font-family="Liberation Serif" font-size="5.0" text-anchor="end" font-weight="normal" fill="#111" class="t">1500</text>
<line x1="365.3" y1="158.38" x2="366.6" y2="158.38" stroke="#888888" stroke-width="0.6"/>
<line x1="493.6" y1="158.38" x2="492.3" y2="158.38" stroke="#888888" stroke-width="0.6"/>
<text x="0" y="0" transform="translate(363.60,160.01) scale(1,1.2)" font-family="Liberation Serif" font-size="5.0" text-anchor="end" font-weight="normal" fill="#111" class="t">1400</text>
<line x1="365.3" y1="173.47" x2="366.6" y2="173.47" stroke="#888888" stroke-width="0.6"/>
<line x1="493.6" y1="173.47" x2="492.3" y2="173.47" stroke="#888888" stroke-width="0.6"/>
<text x="0" y="0" transform="translate(363.60,175.09) scale(1,1.2)" font-family="Liberation Serif" font-size="5.0" text-anchor="end" font-weight="normal" fill="#111" class="t">1300</text>
<line x1="365.3" y1="188.55" x2="366.6" y2="188.55" stroke="#888888" stroke-width="0.6"/>
<line x1="493.6" y1="188.55" x2="492.3" y2="188.55" stroke="#888888" stroke-width="0.6"/>
<text x="0" y="0" transform="translate(363.60,190.18) scale(1,1.2)" font-family="Liberation Serif" font-size="5.0" text-anchor="end" font-weight="normal" fill="#111" class="t">1200</text>
<line x1="365.3" y1="203.63" x2="366.6" y2="203.63" stroke="#888888" stroke-width="0.6"/>
<line x1="493.6" y1="203.63" x2="492.3" y2="203.63" stroke="#888888" stroke-width="0.6"/>
<text x="0" y="0" transform="translate(363.60,205.26) scale(1,1.2)" font-family="Liberation Serif" font-size="5.0" text-anchor="end" font-weight="normal" fill="#111" class="t">1100</text>
<line x1="365.3" y1="218.72" x2="366.6" y2="218.72" stroke="#888888" stroke-width="0.6"/>
<line x1="493.6" y1="218.72" x2="492.3" y2="218.72" stroke="#888888" stroke-width="0.6"/>
<text x="0" y="0" transform="translate(363.60,220.34) scale(1,1.2)" font-family="Liberation Serif" font-size="5.0" text-anchor="end" font-weight="normal" fill="#111" class="t">1000</text>
<line x1="365.3" y1="233.80" x2="366.6" y2="233.80" stroke="#888888" stroke-width="0.6"/>
<line x1="493.6" y1="233.80" x2="492.3" y2="233.80" stroke="#888888" stroke-width="0.6"/>
<text x="0" y="0" transform="translate(363.60,235.43) scale(1,1.2)" font-family="Liberation Serif" font-size="5.0" text-anchor="end" font-weight="normal" fill="#111" class="t">900</text>
<text x="0" y="0" transform="translate(429.45,141.80) scale(1,1.1)" font-family="Liberation Serif" font-size="6.8" text-anchor="middle" font-weight="normal" fill="#111" letter-spacing="-0.3" class="l">F14-20D</text>
<text x="0" y="0" transform="translate(429.45,248.80) scale(1,1.12)" font-family="Liberation Serif" font-size="6.55" text-anchor="middle" font-weight="normal" fill="#111" class="l">No. of exact function evaluations</text>
<text x="0" y="0" class="l" font-family="Liberation Serif" font-size="6.55" text-anchor="middle" fill="#111" transform="translate(351.40,188.00) rotate(-90) scale(1,1.12)">Mean fitness value</text>
<polyline points="365.50,145.00 368.00,159.00 372.80,163.80 377.70,167.10 385.80,169.50 392.40,172.80 400.50,175.30 410.30,176.90 418.50,177.50 440.00,179.00 460.00,180.20 493.40,181.00" fill="none" stroke="#5f84bc" stroke-width="1.1" stroke-dasharray="2.4,1.2,0.6,1.2" stroke-linejoin="round" />
<polyline points="365.50,145.00 366.30,150.80 369.50,155.70 376.00,160.60 381.00,162.20 384.20,161.40 389.00,165.50 395.60,168.70 408.70,171.60 423.00,174.20 440.00,176.50 460.00,177.40 480.00,178.40 493.40,179.80" fill="none" stroke="#3f663f" stroke-width="1.15" stroke-dasharray="0.8,0.7" stroke-linejoin="round" />
<polyline points="365.50,145.00 366.30,147.50 367.90,155.70 371.20,158.10 376.00,161.40 379.30,162.20 382.60,161.40 385.80,163.80 389.10,167.10 395.60,168.70 408.70,171.20 423.00,173.70 440.00,175.50 460.00,177.20 480.00,178.20 493.40,179.60" fill="none" stroke="#8c8232" stroke-width="1.2" stroke-dasharray="2,1" stroke-linejoin="round" />
<polyline points="365.50,145.00 368.00,160.60 372.80,163.00 379.30,165.50 387.50,167.90 395.60,169.00 403.80,169.50 408.70,170.40 416.80,172.80 423.00,173.40 450.00,174.50 493.40,176.00" fill="none" stroke="#7a5c9e" stroke-width="1.1" stroke-linejoin="round" />
<polyline points="365.60,144.60 368.00,232.60 493.40,232.60" fill="none" stroke="#1c1c84" stroke-width="1.25" stroke-linejoin="round" />
<rect x="452.9" y="194.3" width="38.10" height="27.00" fill="#fff" stroke="#888888" stroke-width="0.6"/>
<polyline points="454.20,197.30 464.70,197.30" fill="none" stroke="#1c1c84" stroke-width="1.3" stroke-linejoin="round" />
<text x="0" y="0" transform="translate(465.50,199.17) scale(1,1.2)" font-family="Liberation Serif" font-size="4.7" text-anchor="start" font-weight="normal" fill="#111" class="t" style="fill:#262626">MSAMT</text>
<polyline points="454.20,202.90 464.70,202.90" fill="none" stroke="#5f84bc" stroke-width="1.0" stroke-dasharray="3,4,1.5,4" stroke-linejoin="round" />
<text x="0" y="0" transform="translate(465.50,204.77) scale(1,1.2)" font-family="Liberation Serif" font-size="4.7" text-anchor="start" font-weight="normal" fill="#111" class="t" style="fill:#262626">HSAOA</text>
<polyline points="454.20,208.30 464.70,208.30" fill="none" stroke="#7a5c9e" stroke-width="1.1" stroke-linejoin="round" />
<text x="0" y="0" transform="translate(465.50,210.17) scale(1,1.2)" font-family="Liberation Serif" font-size="4.7" text-anchor="start" font-weight="normal" fill="#111" class="t" style="fill:#262626">DSP-SAEA</text>
<polyline points="454.20,213.80 464.70,213.80" fill="none" stroke="#8c8232" stroke-width="1.2" stroke-dasharray="2,1" stroke-linejoin="round" />
<text x="0" y="0" transform="translate(465.50,215.67) scale(1,1.2)" font-family="Liberation Serif" font-size="4.7" text-anchor="start" font-weight="normal" fill="#111" class="t" style="fill:#262626">BiS-SAHA</text>
<polyline points="454.20,218.70 464.70,218.70" fill="none" stroke="#3f663f" stroke-width="1.1" stroke-dasharray="0.8,0.7" stroke-linejoin="round" />
<text x="0" y="0" transform="translate(465.50,220.57) scale(1,1.2)" font-family="Liberation Serif" font-size="4.7" text-anchor="start" font-weight="normal" fill="#111" class="t" style="fill:#262626">FSAPSO</text>
<text x="79.00" y="130.30" font-family="Liberation Sans" font-size="11" text-anchor="middle" font-weight="bold" fill="#1a1a1a" class="p">(j)</text>
<text x="274.90" y="126.20" font-family="Liberation Sans" font-size="10.3" text-anchor="middle" font-weight="bold" fill="#1a1a1a" class="p">(k)</text>
<text x="470.50" y="126.00" font-family="Liberation Serif" font-size="11" text-anchor="middle" font-weight="bold" fill="#1a1a1a" class="p">(l)</text>
<text x="0" y="0" transform="translate(127.4,264.0) scale(0.88,1)" class="p" font-family="Liberation Serif" font-size="11" font-weight="bold" text-anchor="middle" fill="#1a1a1a">(m)</text>
<text x="421.30" y="260.20" font-family="Liberation Serif" font-size="11" text-anchor="middle" font-weight="bold" fill="#1a1a1a" class="p">(n)</text>
<defs><clipPath id="cj"><rect x="30.5" y="8.8" width="120.5" height="90.4"/></clipPath></defs>
</svg></body></html>
